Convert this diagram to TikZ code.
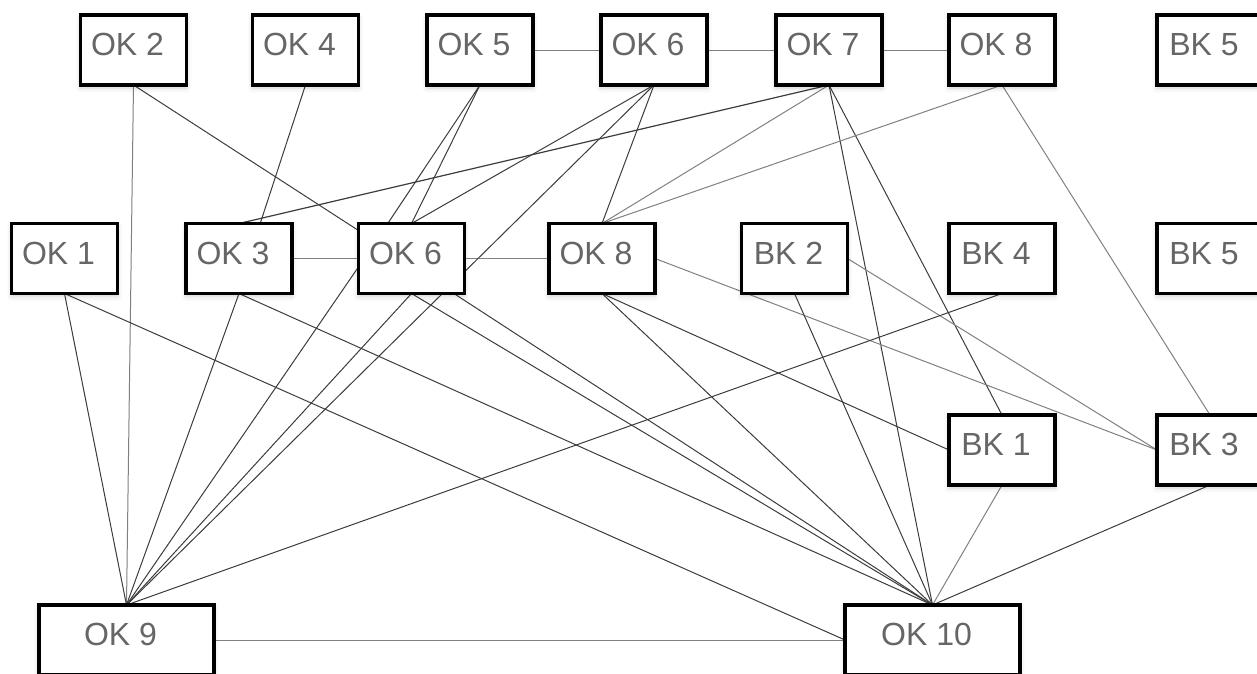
\documentclass[tikz,border=0pt]{standalone}
\usepackage{fontspec}
\setmainfont{Liberation Sans}
\usetikzlibrary{calc,shadows.blur}
\pgfdeclarelayer{bg}
\pgfsetlayers{bg,main}
\definecolor{txt}{HTML}{666666}
\definecolor{dk}{HTML}{3C3C3C}
\definecolor{lt}{HTML}{808080}
\newcommand\bx[5]{%
  \node[box, minimum width=#4] (#1) at (#2) {};
  \node[lbl] (#1-t) at ($(#1.north)+(-6,40.5)$) {#3};}
\begin{document}
\begin{tikzpicture}[x=1pt,y=-1pt,
  box/.style={draw=black, line width=3.2pt, fill=white, rectangle,
    minimum height=70pt, inner sep=0pt, outer sep=0pt,
    blur shadow={shadow xshift=0pt, shadow yshift=-3pt, shadow blur radius=5pt, shadow opacity=18}},
  lbl/.style={anchor=base, text=txt, font=\fontsize{32}{32}\selectfont, inner sep=0pt},
  ln/.style={draw=dk, line width=1pt},
  lnl/.style={draw=lt, line width=1pt}]
\useasboundingbox (0,0) rectangle (1257,673);
% top row
\bx{OK2}{133.5,50}{OK 2}{106pt}{}
\bx{OK4}{305.5,50}{OK 4}{106pt}{}
\bx{OK5}{480,50}{OK 5}{106pt}{}
\bx{OK6t}{654,50}{OK 6}{106pt}{}
\bx{OK7}{829,50}{OK 7}{106pt}{}
\bx{OK8t}{1002,50}{OK 8}{106pt}{}
\bx{BK5t}{1210,50}{BK 5}{106pt}{}
% middle row
\bx{OK1}{64.5,258.5}{OK 1}{106pt}{}
\bx{OK3}{239,258.5}{OK 3}{106pt}{}
\bx{OK6m}{411.5,258.5}{OK 6}{106pt}{}
\bx{OK8m}{602,258.5}{OK 8}{106pt}{}
\bx{BK2}{794.5,258.5}{BK 2}{106pt}{}
\bx{BK4}{1002,258.5}{BK 4}{106pt}{}
\bx{BK5m}{1210,258.5}{BK 5}{106pt}{}
% third row
\bx{BK1}{1002,450}{BK 1}{106pt}{}
\bx{BK3}{1210,450}{BK 3}{106pt}{}
% bottom row
\bx{OK9}{126.5,640}{OK 9}{175pt}{}
\bx{OK10}{932.5,640}{OK 10}{175pt}{}
\begin{pgfonlayer}{bg}
% horizontal links
\draw[lnl] (OK5.east) -- (OK6t.west);
\draw[lnl] (OK6t.east) -- (OK7.west);
\draw[lnl] (OK7.east) -- (OK8t.west);
\draw[lnl] (OK3.east) -- (OK6m.west);
\draw[lnl] (OK6m.east) -- (OK8m.west);
\draw[lnl] (OK9.east) -- (OK10.west);
% from top row
\draw[lnl] (OK2.south) -- (OK9.north);
\draw[ln] (OK2.south) -- ($(OK6m.north west)!0.1!(OK6m.south west)$);
\draw[ln] (OK4.south) -- ($(OK3.north west)!0.7!(OK3.north east)$);
\draw[ln] (OK5.south) -- ($(OK6m.north west)!0.276!(OK6m.north east)$);
\draw[ln] (OK5.south) -- (OK6m.north);
\draw[ln] (OK6t.south) -- (OK6m.north);
\draw[ln] (OK6t.south) -- (OK9.north);
\draw[ln] (OK6t.south) -- (OK8m.north);
\draw[ln, line width=1.2pt] (OK7.south) -- (OK3.north);
\draw[lnl] (OK7.south) -- (OK8m.north);
\draw[ln] (OK7.south) -- (OK10.north);
\draw[ln] (OK7.south) -- (BK1.north);
\draw[lnl] (OK8t.south) -- (OK8m.north);
\draw[lnl] (OK8t.south) -- (BK3.north);
% from middle row
\draw[ln] (OK1.south) -- (OK9.north);
\draw[ln] (OK1.south) -- (OK10.west);
\draw[ln] (OK3.south) -- (OK9.north);
\draw[ln] (OK3.south) -- (OK10.north);
\draw[ln] ($(OK6m.north west)!0.62!(OK6m.south west)$) -- (OK9.north);
\draw[ln] (OK6m.south) -- (OK9.north);
\draw[ln] (OK6m.south) -- (OK10.north);
\draw[ln] ($(OK6m.south west)!0.9!(OK6m.south east)$) -- (OK10.north);
\draw[ln] (OK8m.south) -- (OK10.north);
\draw[ln] (OK8m.south) -- (BK1.west);
\draw[lnl] (OK8m.east) -- (BK3.west);
\draw[lnl] (BK2.east) -- (BK3.west);
\draw[ln] (BK2.south) -- (OK10.north);
\draw[ln] (BK4.south) -- (OK9.north);
\draw[lnl] (BK1.south) -- (OK10.north);
\draw[ln] (BK3.south) -- (OK10.north);
\end{pgfonlayer}
\end{tikzpicture}
\end{document}
